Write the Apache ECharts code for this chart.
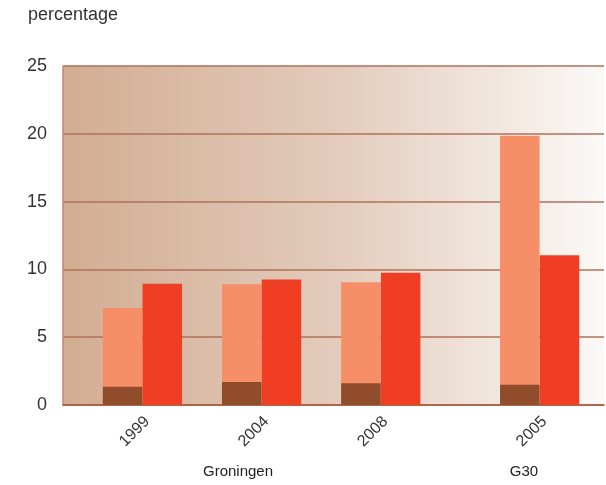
<!DOCTYPE html>
<html><head><meta charset="utf-8">
<script src="https://cdn.jsdelivr.net/npm/echarts@6/dist/echarts.min.js"></script>
<style>html,body{margin:0;padding:0;background:#fff}#c{width:606px;height:485px}</style>
</head><body><div id="c"></div>
<script>
// categories and their positions on the x scale (in bar-width units)
var years = ['1999', '2004', '2008', '2005'];
var yearPos = [2, 5, 8, 12];
var groupLabels = ['Groningen', 'G30'];
// values (percentage)
var darkVals = [1.35, 1.7, 1.6, 1.5];       // dark lower part of first bar
var lightTotals = [7.15, 8.9, 9.05, 19.85]; // total height of first bar
var redVals = [8.95, 9.25, 9.75, 11.05];
var X_MAX = 13.62;

function pts(vals, shift) { return vals.map(function (v, i) { return [yearPos[i] + shift, v]; }); }

var font = '"Liberation Sans", Arial, sans-serif';
function hiddenX() {
  return {type: 'value', min: 0, max: X_MAX, show: false, splitLine: {show: false}};
}
var labelShift = 0.12;

var chart = echarts.init(document.getElementById('c'), null, {renderer: 'canvas'});
chart.setOption({
  animation: false,
  grid: {
    left: 63, right: 2, top: 66, bottom: 80,
    show: true, borderWidth: 0,
    backgroundColor: {
      type: 'linear', x: 0, y: 0, x2: 1, y2: 0,
      colorStops: [{offset: 0, color: '#d2ad93'}, {offset: 0.5, color: '#e3cbbb'}, {offset: 1, color: '#fbf9f7'}]
    }
  },
  graphic: [
    {type: 'text', left: 28, top: 6, style: {text: 'percentage', font: '18px ' + font, fill: '#333'}},
    {type: 'text', x: 238, y: 472, style: {text: groupLabels[0], font: '15px ' + font, fill: '#222', align: 'center', verticalAlign: 'middle'}},
    {type: 'text', x: 524, y: 472, style: {text: groupLabels[1], font: '15px ' + font, fill: '#222', align: 'center', verticalAlign: 'middle'}}
  ],
  xAxis: [{
    type: 'value', min: 0, max: X_MAX,
    splitLine: {show: false},
    axisTick: {show: false},
    axisLine: {show: true, lineStyle: {color: '#a65a3a', width: 1.5}},
    axisLabel: {
      rotate: 45, margin: 14,
      customValues: yearPos.map(function (p) { return p + labelShift; }),
      color: '#333', fontSize: 16, fontFamily: font,
      formatter: function (v) {
        for (var i = 0; i < yearPos.length; i++) { if (Math.abs(v - yearPos[i] - labelShift) < 1e-6) return years[i]; }
        return '';
      }
    }
  }, hiddenX(), hiddenX()],
  yAxis: {
    type: 'value', min: 0, max: 25, interval: 5,
    axisLine: {show: true, lineStyle: {color: '#c08a72', width: 1.5}},
    axisTick: {show: false},
    splitLine: {show: true, lineStyle: {color: '#b0705a', width: 1.5}},
    axisLabel: {margin: 16, color: '#333', fontSize: 18, fontFamily: font}
  },
  series: [
    {type: 'bar', xAxisIndex: 1, barWidth: 39.5, data: pts(lightTotals, -0.5), itemStyle: {color: '#f68e68'}, z: 2},
    {type: 'bar', xAxisIndex: 2, barWidth: 39.5, data: pts(darkVals, -0.5), itemStyle: {color: '#914c2c'}, z: 3},
    {type: 'bar', xAxisIndex: 0, barWidth: 39.5, data: pts(redVals, 0.5), itemStyle: {color: '#ef3e23'}, z: 2}
  ]
});
</script></body></html>
